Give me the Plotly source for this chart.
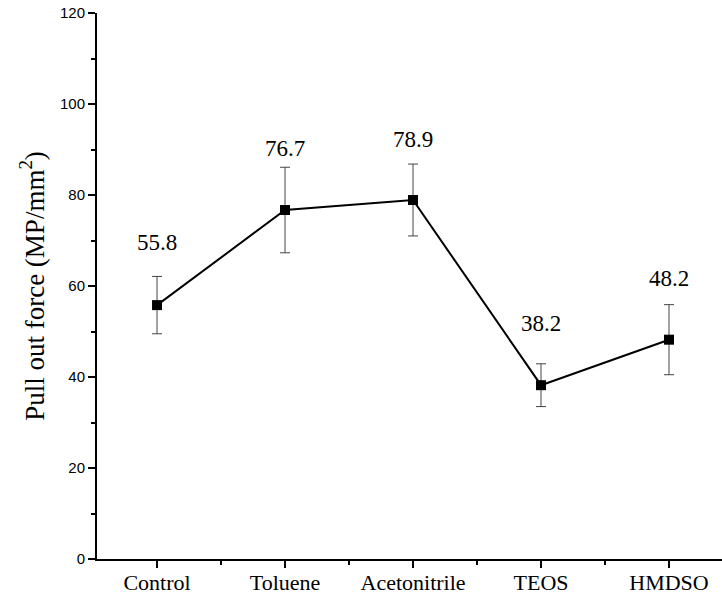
import plotly.graph_objects as go

# Pull-out force per treatment
treatments = ["Control", "Toluene", "Acetonitrile", "TEOS", "HMDSO"]
force = [55.8, 76.7, 78.9, 38.2, 48.2]
force_sd = [6.3, 9.4, 7.9, 4.7, 7.7]

y_ticks = [0, 20, 40, 60, 80, 100, 120]

x_pos = list(range(1, len(treatments) + 1))

# vertical pixel offset of each value label above its error cap
label_shift = [34, 19, 25, 40, 26]

fig = go.Figure()

fig.add_trace(go.Scatter(
    x=x_pos,
    y=force,
    mode="lines+markers",
    line=dict(color="black", width=2),
    marker=dict(symbol="square", size=10, color="black"),
    error_y=dict(type="data", array=force_sd, visible=True,
                 color="#444444", thickness=1, width=5),
    showlegend=False,
    cliponaxis=False,
))

for xi, v, sd, dy in zip(x_pos, force, force_sd, label_shift):
    fig.add_annotation(
        x=xi, y=v + sd, text=f"{v:.1f}", showarrow=False,
        yanchor="middle", yshift=dy,
        font=dict(family="Liberation Serif", size=23, color="black"),
    )

fig.update_layout(
    width=722, height=598,
    margin=dict(l=97, r=0, t=13, b=39),
    paper_bgcolor="white",
    plot_bgcolor="white",
    xaxis=dict(
        range=[0.531, 5.414],
        tickvals=x_pos,
        ticktext=treatments,
        automargin=False,
        ticks="outside", ticklen=7, tickwidth=1.5, tickcolor="black",
        ticklabelstandoff=-4,
        minor=dict(tickvals=[1.5, 2.5, 3.5, 4.5], ticks="outside",
                   ticklen=4, tickwidth=1.5, tickcolor="black"),
        showline=True, linecolor="black", linewidth=2,
        showgrid=False, zeroline=False,
        tickfont=dict(family="Liberation Serif", size=22, color="black"),
    ),
    yaxis=dict(
        range=[0, 120],
        tickvals=y_ticks,
        automargin=False,
        ticks="outside", ticklen=7, tickwidth=1.5, tickcolor="black",
        minor=dict(tickvals=[10, 30, 50, 70, 90, 110], ticks="outside",
                   ticklen=4, tickwidth=1.5, tickcolor="black"),
        showline=True, linecolor="black", linewidth=2,
        showgrid=False, zeroline=False,
        tickfont=dict(family="Liberation Sans", size=15, color="black"),
        title=dict(text="Pull out force (MP/mm<sup>2</sup>)",
                   font=dict(family="Liberation Serif", size=27, color="black"),
                   standoff=8),
    ),
)

fig.write_html("out.html")
